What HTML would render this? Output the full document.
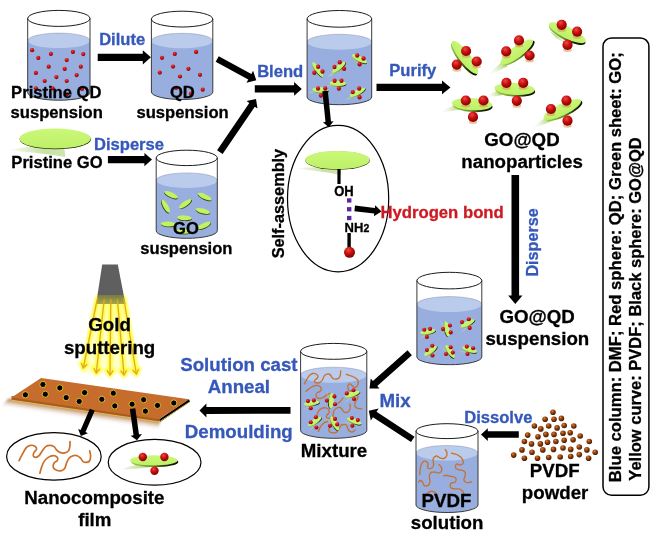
<!DOCTYPE html><html><head><meta charset="utf-8"><style>html,body{margin:0;padding:0;background:#fff;overflow:hidden}svg{display:block;filter:blur(0.35px)}</style></head><body><svg width="662" height="545" viewBox="0 0 662 545" font-family="'Liberation Sans', sans-serif" font-weight="bold">
<defs>
<radialGradient id="rb" cx="0.4" cy="0.3" r="0.72"><stop offset="0" stop-color="#f04848"/><stop offset="0.45" stop-color="#cc1010"/><stop offset="1" stop-color="#7a0000"/></radialGradient>
<radialGradient id="bb" cx="0.38" cy="0.32" r="0.7"><stop offset="0" stop-color="#d88040"/><stop offset="0.45" stop-color="#8f3f0a"/><stop offset="1" stop-color="#4a1800"/></radialGradient>
<linearGradient id="gsheet" x1="0" y1="0" x2="0" y2="1"><stop offset="0" stop-color="#cbf878"/><stop offset="1" stop-color="#bdf068"/></linearGradient>
<linearGradient id="gshadow" x1="1" y1="0" x2="0" y2="1"><stop offset="0" stop-color="#8cc040" stop-opacity="0.85"/><stop offset="1" stop-color="#ffffff" stop-opacity="0"/></linearGradient>
<radialGradient id="glow" cx="0.5" cy="0.2" r="0.8"><stop offset="0" stop-color="#ffff60" stop-opacity="0.95"/><stop offset="0.7" stop-color="#ffff90" stop-opacity="0.6"/><stop offset="1" stop-color="#ffffc0" stop-opacity="0"/></radialGradient>
<linearGradient id="head" x1="0" y1="0" x2="0" y2="1"><stop offset="0" stop-color="#5a5a5a"/><stop offset="0.75" stop-color="#6e6e6e"/><stop offset="1" stop-color="#8a8a50"/></linearGradient>
<linearGradient id="filmshadow" x1="0" y1="0" x2="0" y2="1"><stop offset="0" stop-color="#a86a3a" stop-opacity="0.9"/><stop offset="0.5" stop-color="#d8b090" stop-opacity="0.5"/><stop offset="1" stop-color="#ffffff" stop-opacity="0"/></linearGradient>
<linearGradient id="gsh2" x1="1" y1="0" x2="0" y2="0"><stop offset="0" stop-color="#b0d478" stop-opacity="0.6"/><stop offset="0.35" stop-color="#b4d882" stop-opacity="0.75"/><stop offset="0.7" stop-color="#d0e6b0" stop-opacity="0.5"/><stop offset="1" stop-color="#ffffff" stop-opacity="0"/></linearGradient>
<linearGradient id="rim" x1="0" y1="0" x2="1" y2="0"><stop offset="0" stop-color="#9ccc48"/><stop offset="0.45" stop-color="#6a8e28"/><stop offset="0.75" stop-color="#1e2606"/><stop offset="1" stop-color="#0a0e00"/></linearGradient>
<filter id="rb1" x="-50%" y="-50%" width="200%" height="200%"><feGaussianBlur stdDeviation="0.6"/></filter>
</defs>
<rect width="662" height="545" fill="#fff"/>
<path d="M27.70,40.60 L27.70,92.70 A31.15,7.50 0 0 0 90.00,92.70 L90.00,40.60 Z" fill="#98AEDE"/>
<ellipse cx="58.85" cy="40.60" rx="31.15" ry="7.50" fill="#BBCBEC"/>
<path d="M27.70,40.60 A31.15,7.50 0 0 1 90.00,40.60" fill="none" stroke="#50608c" stroke-opacity="0.45" stroke-width="0.7"/>
<circle cx="32.10" cy="50.20" r="2.10" fill="url(#rb)"/>
<circle cx="50.90" cy="53.90" r="2.10" fill="url(#rb)"/>
<circle cx="72.90" cy="51.90" r="2.10" fill="url(#rb)"/>
<circle cx="83.30" cy="54.10" r="2.10" fill="url(#rb)"/>
<circle cx="38.30" cy="57.90" r="2.10" fill="url(#rb)"/>
<circle cx="66.70" cy="60.10" r="2.10" fill="url(#rb)"/>
<circle cx="48.70" cy="66.70" r="2.10" fill="url(#rb)"/>
<circle cx="64.70" cy="68.90" r="2.10" fill="url(#rb)"/>
<circle cx="80.80" cy="66.70" r="2.10" fill="url(#rb)"/>
<circle cx="35.90" cy="72.90" r="2.10" fill="url(#rb)"/>
<circle cx="56.40" cy="77.10" r="2.10" fill="url(#rb)"/>
<circle cx="76.60" cy="75.10" r="2.10" fill="url(#rb)"/>
<circle cx="44.70" cy="81.00" r="2.10" fill="url(#rb)"/>
<circle cx="66.70" cy="81.00" r="2.10" fill="url(#rb)"/>
<circle cx="35.90" cy="88.30" r="2.10" fill="url(#rb)"/>
<circle cx="52.60" cy="88.30" r="2.10" fill="url(#rb)"/>
<circle cx="66.70" cy="94.30" r="2.10" fill="url(#rb)"/>
<circle cx="82.00" cy="89.00" r="2.10" fill="url(#rb)"/>
<g fill="none" stroke="#1c1c1c" stroke-width="1"><path d="M27.70,18.40 L27.70,92.70 A31.15,7.50 0 0 0 90.00,92.70 L90.00,18.40" stroke="#3a3a3a"/><ellipse cx="58.85" cy="18.40" rx="31.15" ry="8.00"/></g>
<path d="M151.40,40.80 L151.40,92.00 A30.70,7.50 0 0 0 212.80,92.00 L212.80,40.80 Z" fill="#98AEDE"/>
<ellipse cx="182.10" cy="40.80" rx="30.70" ry="7.50" fill="#BBCBEC"/>
<path d="M151.40,40.80 A30.70,7.50 0 0 1 212.80,40.80" fill="none" stroke="#50608c" stroke-opacity="0.45" stroke-width="0.7"/>
<circle cx="162.00" cy="57.80" r="2.10" fill="url(#rb)"/>
<circle cx="174.80" cy="53.90" r="2.10" fill="url(#rb)"/>
<circle cx="196.10" cy="51.90" r="2.10" fill="url(#rb)"/>
<circle cx="173.00" cy="66.60" r="2.10" fill="url(#rb)"/>
<circle cx="188.40" cy="68.80" r="2.10" fill="url(#rb)"/>
<circle cx="159.80" cy="72.60" r="2.10" fill="url(#rb)"/>
<circle cx="180.00" cy="76.50" r="2.10" fill="url(#rb)"/>
<circle cx="200.00" cy="74.80" r="2.10" fill="url(#rb)"/>
<circle cx="202.70" cy="89.70" r="2.10" fill="url(#rb)"/>
<circle cx="191.00" cy="93.50" r="2.10" fill="url(#rb)"/>
<circle cx="176.00" cy="88.00" r="2.10" fill="url(#rb)"/>
<g fill="none" stroke="#1c1c1c" stroke-width="1"><path d="M151.40,19.10 L151.40,92.00 A30.70,7.50 0 0 0 212.80,92.00 L212.80,19.10" stroke="#3a3a3a"/><ellipse cx="182.10" cy="19.10" rx="30.70" ry="7.90"/></g>
<path d="M156.20,180.40 L156.20,230.80 A30.55,7.50 0 0 0 217.30,230.80 L217.30,180.40 Z" fill="#98AEDE"/>
<ellipse cx="186.75" cy="180.40" rx="30.55" ry="7.50" fill="#BBCBEC"/>
<path d="M156.20,180.40 A30.55,7.50 0 0 1 217.30,180.40" fill="none" stroke="#50608c" stroke-opacity="0.45" stroke-width="0.7"/>
<g transform="translate(171,194.7) rotate(25)"><ellipse cx="0.3" cy="0.9" rx="7.4" ry="2.4" fill="#3c4a10"/><ellipse cx="0" cy="0" rx="7.4" ry="2.4" fill="#C0F262"/></g>
<g transform="translate(204.7,196.6) rotate(25)"><ellipse cx="0.3" cy="0.9" rx="7.4" ry="2.4" fill="#3c4a10"/><ellipse cx="0" cy="0" rx="7.4" ry="2.4" fill="#C0F262"/></g>
<g transform="translate(165.8,206.3) rotate(60)"><ellipse cx="0.3" cy="0.9" rx="7.4" ry="2.4" fill="#3c4a10"/><ellipse cx="0" cy="0" rx="7.4" ry="2.4" fill="#C0F262"/></g>
<g transform="translate(185.1,203.8) rotate(-35)"><ellipse cx="0.3" cy="0.9" rx="7.4" ry="2.4" fill="#3c4a10"/><ellipse cx="0" cy="0" rx="7.4" ry="2.4" fill="#C0F262"/></g>
<g transform="translate(202.8,210.9) rotate(15)"><ellipse cx="0.3" cy="0.9" rx="7.4" ry="2.4" fill="#3c4a10"/><ellipse cx="0" cy="0" rx="7.4" ry="2.4" fill="#C0F262"/></g>
<g transform="translate(184.5,217.8) rotate(3)"><ellipse cx="0.3" cy="0.9" rx="7.4" ry="2.4" fill="#3c4a10"/><ellipse cx="0" cy="0" rx="7.4" ry="2.4" fill="#C0F262"/></g>
<g transform="translate(168.1,224) rotate(3)"><ellipse cx="0.3" cy="0.9" rx="7.4" ry="2.4" fill="#3c4a10"/><ellipse cx="0" cy="0" rx="7.4" ry="2.4" fill="#C0F262"/></g>
<g transform="translate(203.8,225.6) rotate(-25)"><ellipse cx="0.3" cy="0.9" rx="7.4" ry="2.4" fill="#3c4a10"/><ellipse cx="0" cy="0" rx="7.4" ry="2.4" fill="#C0F262"/></g>
<g transform="translate(183.5,231.2) rotate(3)"><ellipse cx="0.3" cy="0.9" rx="7.4" ry="2.4" fill="#3c4a10"/><ellipse cx="0" cy="0" rx="7.4" ry="2.4" fill="#C0F262"/></g>
<g fill="none" stroke="#1c1c1c" stroke-width="1"><path d="M156.20,157.90 L156.20,230.80 A30.55,7.50 0 0 0 217.30,230.80 L217.30,157.90" stroke="#3a3a3a"/><ellipse cx="186.75" cy="157.90" rx="30.55" ry="7.70"/></g>
<path d="M307.10,42.00 L307.10,97.00 A32.30,7.70 0 0 0 371.70,97.00 L371.70,42.00 Z" fill="#98AEDE"/>
<ellipse cx="339.40" cy="42.00" rx="32.30" ry="7.70" fill="#BBCBEC"/>
<path d="M307.10,42.00 A32.30,7.70 0 0 1 371.70,42.00" fill="none" stroke="#50608c" stroke-opacity="0.45" stroke-width="0.7"/>
<g transform="matrix(0.409,0,0,0.436,127.5,44.6)">
<linearGradient id="sg1" gradientUnits="userSpaceOnUse" x1="465.00" y1="66.00" x2="477.00" y2="84.00"><stop offset="0" stop-color="#9cc850" stop-opacity="0.75"/><stop offset="1" stop-color="#ffffff" stop-opacity="0"/></linearGradient>
<path d="M460.00,62.00 Q467.00,71.80 477.00,84.00 Q475.00,78.20 470.00,70.00 Z" fill="url(#sg1)"/>
<linearGradient id="sg2" gradientUnits="userSpaceOnUse" x1="505.00" y1="64.00" x2="487.00" y2="76.00"><stop offset="0" stop-color="#9cc850" stop-opacity="0.75"/><stop offset="1" stop-color="#ffffff" stop-opacity="0"/></linearGradient>
<path d="M502.00,62.00 Q493.60,68.40 487.00,76.00 Q498.40,71.60 508.00,66.00 Z" fill="url(#sg2)"/>
<linearGradient id="sg3" gradientUnits="userSpaceOnUse" x1="553.00" y1="34.50" x2="578.00" y2="50.00"><stop offset="0" stop-color="#9cc850" stop-opacity="0.75"/><stop offset="1" stop-color="#ffffff" stop-opacity="0"/></linearGradient>
<path d="M550.00,31.00 Q563.10,39.45 578.00,50.00 Q567.90,45.05 556.00,38.00 Z" fill="url(#sg3)"/>
<linearGradient id="sg4" gradientUnits="userSpaceOnUse" x1="458.00" y1="107.00" x2="439.00" y2="113.00"><stop offset="0" stop-color="#9cc850" stop-opacity="0.75"/><stop offset="1" stop-color="#ffffff" stop-opacity="0"/></linearGradient>
<path d="M455.00,105.00 Q446.10,108.40 439.00,113.00 Q450.90,111.60 461.00,109.00 Z" fill="url(#sg4)"/>
<linearGradient id="sg5" gradientUnits="userSpaceOnUse" x1="500.00" y1="93.00" x2="485.00" y2="97.00"><stop offset="0" stop-color="#9cc850" stop-opacity="0.75"/><stop offset="1" stop-color="#ffffff" stop-opacity="0"/></linearGradient>
<path d="M497.00,91.00 Q490.10,93.40 485.00,97.00 Q494.90,96.60 503.00,95.00 Z" fill="url(#sg5)"/>
<linearGradient id="sg6" gradientUnits="userSpaceOnUse" x1="548.50" y1="119.50" x2="531.00" y2="129.00"><stop offset="0" stop-color="#9cc850" stop-opacity="0.75"/><stop offset="1" stop-color="#ffffff" stop-opacity="0"/></linearGradient>
<path d="M545.00,118.00 Q536.95,123.05 531.00,129.00 Q542.55,125.45 552.00,121.00 Z" fill="url(#sg6)"/>
<g transform="translate(465.00,57.40) rotate(52.50)"><ellipse cx="0.82" cy="1.68" rx="20.29" ry="5.60" fill="url(#rim)"/><ellipse cx="0" cy="0" rx="20.50" ry="5.60" fill="url(#gsheet)"/></g>
<circle cx="466.10" cy="51.00" r="5.10" fill="url(#rb)"/>
<circle cx="476.70" cy="61.50" r="5.10" fill="url(#rb)"/>
<circle cx="456.80" cy="64.60" r="5.10" fill="url(#rb)"/>
<g transform="translate(516.70,52.10) rotate(-36.40)"><ellipse cx="0.80" cy="1.71" rx="19.70" ry="5.70" fill="url(#rim)"/><ellipse cx="0" cy="0" rx="19.90" ry="5.70" fill="url(#gsheet)"/></g>
<circle cx="519.00" cy="40.40" r="5.10" fill="url(#rb)"/>
<circle cx="506.20" cy="51.40" r="5.10" fill="url(#rb)"/>
<circle cx="529.60" cy="55.50" r="5.10" fill="url(#rb)"/>
<g transform="translate(567.30,32.70) rotate(26.30)"><ellipse cx="0.81" cy="1.77" rx="20.10" ry="5.90" fill="url(#rim)"/><ellipse cx="0" cy="0" rx="20.30" ry="5.90" fill="url(#gsheet)"/></g>
<circle cx="561.70" cy="24.80" r="5.10" fill="url(#rb)"/>
<circle cx="577.10" cy="31.70" r="5.10" fill="url(#rb)"/>
<circle cx="567.50" cy="44.90" r="5.10" fill="url(#rb)"/>
<g transform="translate(472.00,104.10) rotate(3.00)"><ellipse cx="0.80" cy="1.83" rx="19.90" ry="6.10" fill="url(#rim)"/><ellipse cx="0" cy="0" rx="20.10" ry="6.10" fill="url(#gsheet)"/></g>
<circle cx="465.80" cy="100.50" r="5.10" fill="url(#rb)"/>
<circle cx="483.50" cy="100.50" r="5.10" fill="url(#rb)"/>
<circle cx="473.00" cy="116.90" r="5.10" fill="url(#rb)"/>
<g transform="translate(514.60,88.90) rotate(3.00)"><ellipse cx="0.80" cy="1.80" rx="19.90" ry="6.00" fill="url(#rim)"/><ellipse cx="0" cy="0" rx="20.10" ry="6.00" fill="url(#gsheet)"/></g>
<circle cx="506.40" cy="82.90" r="5.10" fill="url(#rb)"/>
<circle cx="523.20" cy="82.90" r="5.10" fill="url(#rb)"/>
<circle cx="516.80" cy="100.80" r="5.10" fill="url(#rb)"/>
<g transform="translate(562.30,109.50) rotate(-25.80)"><ellipse cx="0.82" cy="1.77" rx="20.39" ry="5.90" fill="url(#rim)"/><ellipse cx="0" cy="0" rx="20.60" ry="5.90" fill="url(#gsheet)"/></g>
<circle cx="566.50" cy="100.60" r="5.10" fill="url(#rb)"/>
<circle cx="550.90" cy="109.00" r="5.10" fill="url(#rb)"/>
<circle cx="567.50" cy="120.70" r="5.10" fill="url(#rb)"/>
</g>
<g fill="none" stroke="#1c1c1c" stroke-width="1"><path d="M307.10,18.85 L307.10,97.00 A32.30,7.70 0 0 0 371.70,97.00 L371.70,18.85" stroke="#3a3a3a"/><ellipse cx="339.40" cy="18.85" rx="32.30" ry="8.35"/></g>
<linearGradient id="sg7" gradientUnits="userSpaceOnUse" x1="465.00" y1="66.00" x2="477.00" y2="84.00"><stop offset="0" stop-color="#9cc850" stop-opacity="0.75"/><stop offset="1" stop-color="#ffffff" stop-opacity="0"/></linearGradient>
<path d="M460.00,62.00 Q467.00,71.80 477.00,84.00 Q475.00,78.20 470.00,70.00 Z" fill="url(#sg7)"/>
<linearGradient id="sg8" gradientUnits="userSpaceOnUse" x1="505.00" y1="64.00" x2="487.00" y2="76.00"><stop offset="0" stop-color="#9cc850" stop-opacity="0.75"/><stop offset="1" stop-color="#ffffff" stop-opacity="0"/></linearGradient>
<path d="M502.00,62.00 Q493.60,68.40 487.00,76.00 Q498.40,71.60 508.00,66.00 Z" fill="url(#sg8)"/>
<linearGradient id="sg9" gradientUnits="userSpaceOnUse" x1="553.00" y1="34.50" x2="578.00" y2="50.00"><stop offset="0" stop-color="#9cc850" stop-opacity="0.75"/><stop offset="1" stop-color="#ffffff" stop-opacity="0"/></linearGradient>
<path d="M550.00,31.00 Q563.10,39.45 578.00,50.00 Q567.90,45.05 556.00,38.00 Z" fill="url(#sg9)"/>
<linearGradient id="sg10" gradientUnits="userSpaceOnUse" x1="458.00" y1="107.00" x2="439.00" y2="113.00"><stop offset="0" stop-color="#9cc850" stop-opacity="0.75"/><stop offset="1" stop-color="#ffffff" stop-opacity="0"/></linearGradient>
<path d="M455.00,105.00 Q446.10,108.40 439.00,113.00 Q450.90,111.60 461.00,109.00 Z" fill="url(#sg10)"/>
<linearGradient id="sg11" gradientUnits="userSpaceOnUse" x1="500.00" y1="93.00" x2="485.00" y2="97.00"><stop offset="0" stop-color="#9cc850" stop-opacity="0.75"/><stop offset="1" stop-color="#ffffff" stop-opacity="0"/></linearGradient>
<path d="M497.00,91.00 Q490.10,93.40 485.00,97.00 Q494.90,96.60 503.00,95.00 Z" fill="url(#sg11)"/>
<linearGradient id="sg12" gradientUnits="userSpaceOnUse" x1="548.50" y1="119.50" x2="531.00" y2="129.00"><stop offset="0" stop-color="#9cc850" stop-opacity="0.75"/><stop offset="1" stop-color="#ffffff" stop-opacity="0"/></linearGradient>
<path d="M545.00,118.00 Q536.95,123.05 531.00,129.00 Q542.55,125.45 552.00,121.00 Z" fill="url(#sg12)"/>
<g transform="translate(465.00,57.40) rotate(52.50)"><ellipse cx="0.82" cy="1.68" rx="20.29" ry="5.60" fill="url(#rim)"/><ellipse cx="0" cy="0" rx="20.50" ry="5.60" fill="url(#gsheet)"/></g>
<ellipse cx="466.10" cy="56.10" rx="4.33" ry="1.94" fill="#d8904a" opacity="0.55" filter="url(#rb1)"/>
<circle cx="466.10" cy="51.00" r="5.10" fill="url(#rb)"/>
<ellipse cx="476.70" cy="66.60" rx="4.33" ry="1.94" fill="#d8904a" opacity="0.55" filter="url(#rb1)"/>
<circle cx="476.70" cy="61.50" r="5.10" fill="url(#rb)"/>
<ellipse cx="456.80" cy="69.70" rx="4.33" ry="1.94" fill="#d8904a" opacity="0.55" filter="url(#rb1)"/>
<circle cx="456.80" cy="64.60" r="5.10" fill="url(#rb)"/>
<g transform="translate(516.70,52.10) rotate(-36.40)"><ellipse cx="0.80" cy="1.71" rx="19.70" ry="5.70" fill="url(#rim)"/><ellipse cx="0" cy="0" rx="19.90" ry="5.70" fill="url(#gsheet)"/></g>
<ellipse cx="519.00" cy="45.50" rx="4.33" ry="1.94" fill="#d8904a" opacity="0.55" filter="url(#rb1)"/>
<circle cx="519.00" cy="40.40" r="5.10" fill="url(#rb)"/>
<ellipse cx="506.20" cy="56.50" rx="4.33" ry="1.94" fill="#d8904a" opacity="0.55" filter="url(#rb1)"/>
<circle cx="506.20" cy="51.40" r="5.10" fill="url(#rb)"/>
<ellipse cx="529.60" cy="60.60" rx="4.33" ry="1.94" fill="#d8904a" opacity="0.55" filter="url(#rb1)"/>
<circle cx="529.60" cy="55.50" r="5.10" fill="url(#rb)"/>
<g transform="translate(567.30,32.70) rotate(26.30)"><ellipse cx="0.81" cy="1.77" rx="20.10" ry="5.90" fill="url(#rim)"/><ellipse cx="0" cy="0" rx="20.30" ry="5.90" fill="url(#gsheet)"/></g>
<ellipse cx="561.70" cy="29.90" rx="4.33" ry="1.94" fill="#d8904a" opacity="0.55" filter="url(#rb1)"/>
<circle cx="561.70" cy="24.80" r="5.10" fill="url(#rb)"/>
<ellipse cx="577.10" cy="36.80" rx="4.33" ry="1.94" fill="#d8904a" opacity="0.55" filter="url(#rb1)"/>
<circle cx="577.10" cy="31.70" r="5.10" fill="url(#rb)"/>
<ellipse cx="567.50" cy="50.00" rx="4.33" ry="1.94" fill="#d8904a" opacity="0.55" filter="url(#rb1)"/>
<circle cx="567.50" cy="44.90" r="5.10" fill="url(#rb)"/>
<g transform="translate(472.00,104.10) rotate(3.00)"><ellipse cx="0.80" cy="1.83" rx="19.90" ry="6.10" fill="url(#rim)"/><ellipse cx="0" cy="0" rx="20.10" ry="6.10" fill="url(#gsheet)"/></g>
<ellipse cx="465.80" cy="105.60" rx="4.33" ry="1.94" fill="#d8904a" opacity="0.55" filter="url(#rb1)"/>
<circle cx="465.80" cy="100.50" r="5.10" fill="url(#rb)"/>
<ellipse cx="483.50" cy="105.60" rx="4.33" ry="1.94" fill="#d8904a" opacity="0.55" filter="url(#rb1)"/>
<circle cx="483.50" cy="100.50" r="5.10" fill="url(#rb)"/>
<ellipse cx="473.00" cy="122.00" rx="4.33" ry="1.94" fill="#d8904a" opacity="0.55" filter="url(#rb1)"/>
<circle cx="473.00" cy="116.90" r="5.10" fill="url(#rb)"/>
<g transform="translate(514.60,88.90) rotate(3.00)"><ellipse cx="0.80" cy="1.80" rx="19.90" ry="6.00" fill="url(#rim)"/><ellipse cx="0" cy="0" rx="20.10" ry="6.00" fill="url(#gsheet)"/></g>
<ellipse cx="506.40" cy="88.00" rx="4.33" ry="1.94" fill="#d8904a" opacity="0.55" filter="url(#rb1)"/>
<circle cx="506.40" cy="82.90" r="5.10" fill="url(#rb)"/>
<ellipse cx="523.20" cy="88.00" rx="4.33" ry="1.94" fill="#d8904a" opacity="0.55" filter="url(#rb1)"/>
<circle cx="523.20" cy="82.90" r="5.10" fill="url(#rb)"/>
<ellipse cx="516.80" cy="105.90" rx="4.33" ry="1.94" fill="#d8904a" opacity="0.55" filter="url(#rb1)"/>
<circle cx="516.80" cy="100.80" r="5.10" fill="url(#rb)"/>
<g transform="translate(562.30,109.50) rotate(-25.80)"><ellipse cx="0.82" cy="1.77" rx="20.39" ry="5.90" fill="url(#rim)"/><ellipse cx="0" cy="0" rx="20.60" ry="5.90" fill="url(#gsheet)"/></g>
<ellipse cx="566.50" cy="105.70" rx="4.33" ry="1.94" fill="#d8904a" opacity="0.55" filter="url(#rb1)"/>
<circle cx="566.50" cy="100.60" r="5.10" fill="url(#rb)"/>
<ellipse cx="550.90" cy="114.10" rx="4.33" ry="1.94" fill="#d8904a" opacity="0.55" filter="url(#rb1)"/>
<circle cx="550.90" cy="109.00" r="5.10" fill="url(#rb)"/>
<ellipse cx="567.50" cy="125.80" rx="4.33" ry="1.94" fill="#d8904a" opacity="0.55" filter="url(#rb1)"/>
<circle cx="567.50" cy="120.70" r="5.10" fill="url(#rb)"/>
<path d="M416.90,304.30 L416.90,357.00 A32.45,7.70 0 0 0 481.80,357.00 L481.80,304.30 Z" fill="#98AEDE"/>
<ellipse cx="449.35" cy="304.30" rx="32.45" ry="7.70" fill="#BBCBEC"/>
<path d="M416.90,304.30 A32.45,7.70 0 0 1 481.80,304.30" fill="none" stroke="#50608c" stroke-opacity="0.45" stroke-width="0.7"/>
<g transform="translate(427.90,331.70) rotate(-10.00)"><path d="M-1.56,1.44 Q-7.02,3.84 -12.48,6.24 Q-4.68,4.56 2.34,2.40 Z" fill="url(#gshadow)" opacity="0.8"/></g>
<g transform="translate(427.90,331.70) rotate(-10.00)"><ellipse cx="0.31" cy="0.72" rx="7.72" ry="2.40" fill="url(#rim)"/><ellipse cx="0" cy="0" rx="7.80" ry="2.40" fill="url(#gsheet)"/></g>
<circle cx="424.30" cy="329.80" r="2.05" fill="url(#rb)"/>
<circle cx="430.10" cy="328.90" r="2.05" fill="url(#rb)"/>
<circle cx="426.90" cy="336.90" r="2.05" fill="url(#rb)"/>
<g transform="translate(447.00,329.00) rotate(80.00)"><path d="M-1.56,1.44 Q-7.02,3.84 -12.48,6.24 Q-4.68,4.56 2.34,2.40 Z" fill="url(#gshadow)" opacity="0.8"/></g>
<g transform="translate(447.00,329.00) rotate(80.00)"><ellipse cx="0.31" cy="0.72" rx="7.72" ry="2.40" fill="url(#rim)"/><ellipse cx="0" cy="0" rx="7.80" ry="2.40" fill="url(#gsheet)"/></g>
<circle cx="449.90" cy="325.50" r="2.05" fill="url(#rb)"/>
<circle cx="443.00" cy="329.10" r="2.05" fill="url(#rb)"/>
<circle cx="450.70" cy="332.40" r="2.05" fill="url(#rb)"/>
<g transform="translate(467.80,323.30) rotate(-27.00)"><path d="M-1.56,1.44 Q-7.02,3.84 -12.48,6.24 Q-4.68,4.56 2.34,2.40 Z" fill="url(#gshadow)" opacity="0.8"/></g>
<g transform="translate(467.80,323.30) rotate(-27.00)"><ellipse cx="0.31" cy="0.72" rx="7.72" ry="2.40" fill="url(#rim)"/><ellipse cx="0" cy="0" rx="7.80" ry="2.40" fill="url(#gsheet)"/></g>
<circle cx="462.00" cy="322.10" r="2.05" fill="url(#rb)"/>
<circle cx="468.80" cy="319.20" r="2.05" fill="url(#rb)"/>
<circle cx="469.70" cy="327.90" r="2.05" fill="url(#rb)"/>
<g transform="translate(430.60,350.90) rotate(-36.00)"><path d="M-1.56,1.44 Q-7.02,3.84 -12.48,6.24 Q-4.68,4.56 2.34,2.40 Z" fill="url(#gshadow)" opacity="0.8"/></g>
<g transform="translate(430.60,350.90) rotate(-36.00)"><ellipse cx="0.31" cy="0.72" rx="7.72" ry="2.40" fill="url(#rim)"/><ellipse cx="0" cy="0" rx="7.80" ry="2.40" fill="url(#gsheet)"/></g>
<circle cx="432.30" cy="345.80" r="2.05" fill="url(#rb)"/>
<circle cx="426.90" cy="350.10" r="2.05" fill="url(#rb)"/>
<circle cx="432.50" cy="355.50" r="2.05" fill="url(#rb)"/>
<g transform="translate(450.10,351.60) rotate(56.00)"><path d="M-1.56,1.44 Q-7.02,3.84 -12.48,6.24 Q-4.68,4.56 2.34,2.40 Z" fill="url(#gshadow)" opacity="0.8"/></g>
<g transform="translate(450.10,351.60) rotate(56.00)"><ellipse cx="0.31" cy="0.72" rx="7.72" ry="2.40" fill="url(#rim)"/><ellipse cx="0" cy="0" rx="7.80" ry="2.40" fill="url(#gsheet)"/></g>
<circle cx="450.70" cy="347.20" r="2.05" fill="url(#rb)"/>
<circle cx="446.00" cy="354.00" r="2.05" fill="url(#rb)"/>
<circle cx="452.80" cy="352.60" r="2.05" fill="url(#rb)"/>
<g transform="translate(469.70,349.60) rotate(18.00)"><path d="M-1.56,1.44 Q-7.02,3.84 -12.48,6.24 Q-4.68,4.56 2.34,2.40 Z" fill="url(#gshadow)" opacity="0.8"/></g>
<g transform="translate(469.70,349.60) rotate(18.00)"><ellipse cx="0.31" cy="0.72" rx="7.72" ry="2.40" fill="url(#rim)"/><ellipse cx="0" cy="0" rx="7.80" ry="2.40" fill="url(#gsheet)"/></g>
<circle cx="466.80" cy="346.60" r="2.05" fill="url(#rb)"/>
<circle cx="473.10" cy="348.20" r="2.05" fill="url(#rb)"/>
<circle cx="467.50" cy="354.00" r="2.05" fill="url(#rb)"/>
<g fill="none" stroke="#1c1c1c" stroke-width="1"><path d="M416.90,280.60 L416.90,357.00 A32.45,7.70 0 0 0 481.80,357.00 L481.80,280.60" stroke="#3a3a3a"/><ellipse cx="449.35" cy="280.60" rx="32.45" ry="8.30"/></g>
<path d="M300.60,375.00 L300.60,430.50 A33.10,7.80 0 0 0 366.80,430.50 L366.80,375.00 Z" fill="#98AEDE"/>
<ellipse cx="333.70" cy="375.00" rx="33.10" ry="7.80" fill="#BBCBEC"/>
<path d="M300.60,375.00 A33.10,7.80 0 0 1 366.80,375.00" fill="none" stroke="#50608c" stroke-opacity="0.45" stroke-width="0.7"/>
<path d="M304.50,383.90 C304.92,383.08 306.17,380.40 307.00,379.00 C307.83,377.60 308.58,376.42 309.50,375.50 C310.42,374.58 311.42,373.75 312.50,373.50 C313.58,373.25 315.10,373.58 316.00,374.00 C316.90,374.42 317.67,375.33 317.90,376.00 C318.13,376.67 317.88,377.33 317.40,378.00 C316.92,378.67 315.48,379.33 315.00,380.00 C314.52,380.67 314.17,381.50 314.50,382.00 C314.83,382.50 316.10,382.93 317.00,383.00 C317.90,383.07 319.00,382.90 319.90,382.40 C320.80,381.90 321.73,380.98 322.40,380.00 C323.07,379.02 323.32,377.42 323.90,376.50 C324.48,375.58 325.07,374.92 325.90,374.50 C326.73,374.08 328.07,373.83 328.90,374.00 C329.73,374.17 330.40,374.92 330.90,375.50 C331.40,376.08 331.40,376.92 331.90,377.50 C332.40,378.08 333.07,378.75 333.90,379.00 C334.73,379.25 335.98,379.25 336.90,379.00 C337.82,378.75 338.82,378.25 339.40,377.50 C339.98,376.75 340.18,375.58 340.40,374.50 C340.62,373.42 340.65,371.58 340.70,371.00" fill="none" stroke="#C8702C" stroke-width="1.3" stroke-linecap="round"/>
<path d="M346.10,374.20 C346.73,374.42 348.62,375.03 349.90,375.50 C351.18,375.97 352.65,376.42 353.80,377.00 C354.95,377.58 356.05,378.25 356.80,379.00 C357.55,379.75 358.10,380.60 358.30,381.50 C358.50,382.40 358.25,383.58 358.00,384.40 C357.75,385.22 357.37,385.90 356.80,386.40 C356.23,386.90 355.35,387.48 354.60,387.40 C353.85,387.32 353.02,386.48 352.30,385.90 C351.58,385.32 350.95,384.07 350.30,383.90 C349.65,383.73 348.80,384.32 348.40,384.90 C348.00,385.48 347.82,386.48 347.90,387.40 C347.98,388.32 348.33,389.73 348.90,390.40 C349.47,391.07 350.15,390.82 351.30,391.40 C352.45,391.98 354.72,393.15 355.80,393.90 C356.88,394.65 357.55,395.07 357.80,395.90 C358.05,396.73 357.63,398.07 357.30,398.90 C356.97,399.73 356.22,400.07 355.80,400.90 C355.38,401.73 354.88,402.90 354.80,403.90 C354.72,404.90 354.80,406.15 355.30,406.90 C355.80,407.65 356.72,408.07 357.80,408.40 C358.88,408.73 361.13,408.82 361.80,408.90" fill="none" stroke="#C8702C" stroke-width="1.3" stroke-linecap="round"/>
<path d="M306.00,391.40 C306.50,390.98 307.83,389.73 309.00,388.90 C310.17,388.07 311.67,386.98 313.00,386.40 C314.33,385.82 315.85,385.40 317.00,385.40 C318.15,385.40 319.17,385.82 319.90,386.40 C320.63,386.98 321.40,388.07 321.40,388.90 C321.40,389.73 320.63,390.73 319.90,391.40 C319.17,392.07 317.65,392.23 317.00,392.90 C316.35,393.57 315.93,394.57 316.00,395.40 C316.07,396.23 316.58,397.40 317.40,397.90 C318.22,398.40 319.73,398.57 320.90,398.40 C322.07,398.23 323.40,397.48 324.40,396.90 C325.40,396.32 325.98,395.48 326.90,394.90 C327.82,394.32 329.40,393.65 329.90,393.40" fill="none" stroke="#C8702C" stroke-width="1.3" stroke-linecap="round"/>
<path d="M337.90,403.40 C338.40,402.98 340.07,401.82 340.90,400.90 C341.73,399.98 342.57,398.40 342.90,397.90" fill="none" stroke="#C8702C" stroke-width="1.3" stroke-linecap="round"/>
<path d="M316.50,416.40 C316.73,415.73 317.33,413.55 317.90,412.40 C318.47,411.25 319.07,410.23 319.90,409.50 C320.73,408.77 321.82,408.25 322.90,408.00 C323.98,407.75 325.40,407.67 326.40,408.00 C327.40,408.33 328.48,409.17 328.90,410.00 C329.32,410.83 329.23,412.17 328.90,413.00 C328.57,413.83 327.32,414.27 326.90,415.00 C326.48,415.73 326.07,416.83 326.40,417.40 C326.73,417.97 328.23,418.40 328.90,418.40 C329.57,418.40 330.15,417.57 330.40,417.40" fill="none" stroke="#C8702C" stroke-width="1.3" stroke-linecap="round"/>
<path d="M332.90,416.40 C332.98,415.83 333.15,414.07 333.40,413.00 C333.65,411.93 333.82,410.83 334.40,410.00 C334.98,409.17 335.98,408.42 336.90,408.00 C337.82,407.58 339.07,407.33 339.90,407.50 C340.73,407.67 341.23,408.25 341.90,409.00 C342.57,409.75 343.07,411.43 343.90,412.00 C344.73,412.57 345.98,412.65 346.90,412.40 C347.82,412.15 348.83,411.40 349.40,410.50 C349.97,409.60 350.22,408.08 350.30,407.00 C350.38,405.92 349.97,404.50 349.90,404.00" fill="none" stroke="#C8702C" stroke-width="1.3" stroke-linecap="round"/>
<path d="M318.40,431.40 C318.65,430.82 319.32,428.98 319.90,427.90 C320.48,426.82 321.07,425.82 321.90,424.90 C322.73,423.98 323.90,422.98 324.90,422.40 C325.90,421.82 327.40,421.57 327.90,421.40" fill="none" stroke="#C8702C" stroke-width="1.3" stroke-linecap="round"/>
<path d="M329.90,426.90 C329.73,427.32 328.90,428.57 328.90,429.40 C328.90,430.23 329.15,431.32 329.90,431.90 C330.65,432.48 332.32,432.82 333.40,432.90 C334.48,432.98 335.57,432.90 336.40,432.40 C337.23,431.90 337.82,430.82 338.40,429.90 C338.98,428.98 339.32,427.73 339.90,426.90 C340.48,426.07 341.07,425.32 341.90,424.90 C342.73,424.48 344.07,424.23 344.90,424.40 C345.73,424.57 346.40,425.15 346.90,425.90 C347.40,426.65 347.40,427.98 347.90,428.90 C348.40,429.82 349.08,430.90 349.90,431.40 C350.72,431.90 351.90,432.15 352.80,431.90 C353.70,431.65 354.88,430.23 355.30,429.90" fill="none" stroke="#C8702C" stroke-width="1.3" stroke-linecap="round"/>
<g transform="translate(311.80,403.20) rotate(-8.00)"><path d="M-1.56,1.44 Q-7.02,3.84 -12.48,6.24 Q-4.68,4.56 2.34,2.40 Z" fill="url(#gshadow)" opacity="0.8"/></g>
<g transform="translate(311.80,403.20) rotate(-8.00)"><ellipse cx="0.31" cy="0.72" rx="7.72" ry="2.40" fill="url(#rim)"/><ellipse cx="0" cy="0" rx="7.80" ry="2.40" fill="url(#gsheet)"/></g>
<circle cx="308.00" cy="401.10" r="2.05" fill="url(#rb)"/>
<circle cx="313.90" cy="400.40" r="2.05" fill="url(#rb)"/>
<circle cx="310.80" cy="408.30" r="2.05" fill="url(#rb)"/>
<g transform="translate(331.30,400.80) rotate(95.00)"><path d="M-1.56,1.44 Q-7.02,3.84 -12.48,6.24 Q-4.68,4.56 2.34,2.40 Z" fill="url(#gshadow)" opacity="0.8"/></g>
<g transform="translate(331.30,400.80) rotate(95.00)"><ellipse cx="0.31" cy="0.72" rx="7.72" ry="2.40" fill="url(#rim)"/><ellipse cx="0" cy="0" rx="7.80" ry="2.40" fill="url(#gsheet)"/></g>
<circle cx="334.40" cy="396.40" r="2.05" fill="url(#rb)"/>
<circle cx="326.90" cy="400.60" r="2.05" fill="url(#rb)"/>
<circle cx="335.00" cy="404.20" r="2.05" fill="url(#rb)"/>
<g transform="translate(352.40,394.10) rotate(-18.00)"><path d="M-1.56,1.44 Q-7.02,3.84 -12.48,6.24 Q-4.68,4.56 2.34,2.40 Z" fill="url(#gshadow)" opacity="0.8"/></g>
<g transform="translate(352.40,394.10) rotate(-18.00)"><ellipse cx="0.31" cy="0.72" rx="7.72" ry="2.40" fill="url(#rim)"/><ellipse cx="0" cy="0" rx="7.80" ry="2.40" fill="url(#gsheet)"/></g>
<circle cx="346.80" cy="393.40" r="2.05" fill="url(#rb)"/>
<circle cx="353.50" cy="390.30" r="2.05" fill="url(#rb)"/>
<circle cx="354.00" cy="399.00" r="2.05" fill="url(#rb)"/>
<g transform="translate(314.90,421.40) rotate(-33.00)"><path d="M-1.56,1.44 Q-7.02,3.84 -12.48,6.24 Q-4.68,4.56 2.34,2.40 Z" fill="url(#gshadow)" opacity="0.8"/></g>
<g transform="translate(314.90,421.40) rotate(-33.00)"><ellipse cx="0.31" cy="0.72" rx="7.72" ry="2.40" fill="url(#rim)"/><ellipse cx="0" cy="0" rx="7.80" ry="2.40" fill="url(#gsheet)"/></g>
<circle cx="315.90" cy="417.20" r="2.05" fill="url(#rb)"/>
<circle cx="310.80" cy="422.20" r="2.05" fill="url(#rb)"/>
<circle cx="316.40" cy="427.50" r="2.05" fill="url(#rb)"/>
<g transform="translate(334.70,423.50) rotate(61.00)"><path d="M-1.56,1.44 Q-7.02,3.84 -12.48,6.24 Q-4.68,4.56 2.34,2.40 Z" fill="url(#gshadow)" opacity="0.8"/></g>
<g transform="translate(334.70,423.50) rotate(61.00)"><ellipse cx="0.31" cy="0.72" rx="7.72" ry="2.40" fill="url(#rim)"/><ellipse cx="0" cy="0" rx="7.80" ry="2.40" fill="url(#gsheet)"/></g>
<circle cx="335.00" cy="418.90" r="2.05" fill="url(#rb)"/>
<circle cx="330.00" cy="425.70" r="2.05" fill="url(#rb)"/>
<circle cx="337.20" cy="424.40" r="2.05" fill="url(#rb)"/>
<g transform="translate(354.30,421.10) rotate(22.00)"><path d="M-1.56,1.44 Q-7.02,3.84 -12.48,6.24 Q-4.68,4.56 2.34,2.40 Z" fill="url(#gshadow)" opacity="0.8"/></g>
<g transform="translate(354.30,421.10) rotate(22.00)"><ellipse cx="0.31" cy="0.72" rx="7.72" ry="2.40" fill="url(#rim)"/><ellipse cx="0" cy="0" rx="7.80" ry="2.40" fill="url(#gsheet)"/></g>
<circle cx="351.90" cy="418.00" r="2.05" fill="url(#rb)"/>
<circle cx="357.80" cy="420.10" r="2.05" fill="url(#rb)"/>
<circle cx="352.40" cy="425.70" r="2.05" fill="url(#rb)"/>
<g fill="none" stroke="#1c1c1c" stroke-width="1"><path d="M300.60,351.35 L300.60,430.50 A33.10,7.80 0 0 0 366.80,430.50 L366.80,351.35" stroke="#3a3a3a"/><ellipse cx="333.70" cy="351.35" rx="33.10" ry="7.95"/></g>
<path d="M416.00,453.00 L416.00,505.00 A31.00,7.50 0 0 0 478.00,505.00 L478.00,453.00 Z" fill="#98AEDE"/>
<ellipse cx="447.00" cy="453.00" rx="31.00" ry="7.50" fill="#BBCBEC"/>
<path d="M416.00,453.00 A31.00,7.50 0 0 1 478.00,453.00" fill="none" stroke="#50608c" stroke-opacity="0.45" stroke-width="0.7"/>
<path d="M419.80,474.60 C419.90,473.40 420.00,469.38 420.40,467.40 C420.80,465.42 421.52,463.73 422.20,462.70 C422.88,461.67 423.72,461.30 424.50,461.20 C425.28,461.10 426.30,461.57 426.90,462.10 C427.50,462.63 428.00,463.62 428.10,464.40 C428.20,465.18 427.40,466.10 427.50,466.80 C427.60,467.50 428.00,468.40 428.70,468.60 C429.40,468.80 430.90,468.50 431.70,468.00 C432.50,467.50 433.20,466.48 433.50,465.60 C433.80,464.72 433.60,463.68 433.50,462.70 C433.40,461.72 432.70,460.70 432.90,459.70 C433.10,458.70 434.00,457.30 434.70,456.70 C435.40,456.10 436.22,455.90 437.10,456.10 C437.98,456.30 438.92,457.50 440.00,457.90 C441.08,458.30 442.57,458.70 443.60,458.50 C444.63,458.30 445.63,457.60 446.20,456.70 C446.77,455.80 447.13,454.30 447.00,453.10 C446.87,451.90 445.67,450.10 445.40,449.50" fill="none" stroke="#C8702C" stroke-width="1.3" stroke-linecap="round"/>
<path d="M451.40,453.10 C452.08,453.27 454.32,453.70 455.50,454.10 C456.68,454.50 457.50,454.87 458.50,455.50 C459.50,456.13 460.70,456.90 461.50,457.90 C462.30,458.90 463.10,460.50 463.30,461.50 C463.50,462.50 463.30,463.32 462.70,463.90 C462.10,464.48 460.70,465.00 459.70,465.00 C458.70,465.00 457.40,463.70 456.70,463.90 C456.00,464.10 455.60,465.42 455.50,466.20 C455.40,466.98 455.50,468.00 456.10,468.60 C456.70,469.20 458.00,469.50 459.10,469.80 C460.20,470.10 461.70,470.00 462.70,470.40 C463.70,470.80 464.70,471.30 465.10,472.20 C465.50,473.10 465.30,474.60 465.10,475.80 C464.90,477.00 463.90,478.42 463.90,479.40 C463.90,480.38 464.30,481.15 465.10,481.70 C465.90,482.25 467.62,482.70 468.70,482.70 C469.78,482.70 471.12,481.87 471.60,481.70" fill="none" stroke="#C8702C" stroke-width="1.3" stroke-linecap="round"/>
<path d="M438.90,464.40 C439.18,464.70 440.12,465.50 440.60,466.20 C441.08,466.90 441.70,467.70 441.80,468.60 C441.90,469.50 441.68,470.90 441.20,471.60 C440.72,472.30 439.88,472.70 438.90,472.80 C437.92,472.90 436.50,472.30 435.30,472.20 C434.10,472.10 432.60,471.90 431.70,472.20 C430.80,472.50 430.30,473.20 429.90,474.00 C429.50,474.80 429.30,475.92 429.30,477.00 C429.30,478.08 429.90,479.32 429.90,480.50 C429.90,481.68 429.80,483.20 429.30,484.10 C428.80,485.00 427.80,485.70 426.90,485.90 C426.00,486.10 424.58,485.90 423.90,485.30 C423.22,484.70 423.37,483.10 422.80,482.30 C422.23,481.50 421.20,480.55 420.50,480.50 C419.80,480.45 418.92,481.75 418.60,482.00" fill="none" stroke="#C8702C" stroke-width="1.3" stroke-linecap="round"/>
<path d="M443.60,475.80 C444.20,475.75 446.00,475.40 447.20,475.50 C448.40,475.60 449.60,476.15 450.80,476.40 C452.00,476.65 453.52,476.50 454.40,477.00 C455.28,477.50 456.00,478.52 456.10,479.40 C456.20,480.28 455.78,481.72 455.00,482.30 C454.22,482.88 452.20,482.40 451.40,482.90 C450.60,483.40 450.30,484.50 450.20,485.30 C450.10,486.10 450.10,487.10 450.80,487.70 C451.50,488.30 453.02,488.70 454.40,488.90 C455.78,489.10 457.72,488.50 459.10,488.90 C460.48,489.30 461.90,490.40 462.70,491.30 C463.50,492.20 463.70,493.80 463.90,494.30" fill="none" stroke="#C8702C" stroke-width="1.3" stroke-linecap="round"/>
<path d="M423.30,498.40 C423.90,497.62 425.70,494.88 426.90,493.70 C428.10,492.52 429.30,491.60 430.50,491.30 C431.70,491.00 433.10,491.40 434.10,491.90 C435.10,492.40 435.85,493.45 436.50,494.30 C437.15,495.15 437.75,496.55 438.00,497.00" fill="none" stroke="#C8702C" stroke-width="1.3" stroke-linecap="round"/>
<g fill="none" stroke="#1c1c1c" stroke-width="1"><path d="M416.00,431.15 L416.00,505.00 A31.00,7.50 0 0 0 478.00,505.00 L478.00,431.15" stroke="#3a3a3a"/><ellipse cx="447.00" cy="431.15" rx="31.00" ry="7.45"/></g>
<circle cx="553.00" cy="412.20" r="2.80" fill="url(#bb)"/>
<circle cx="545.10" cy="419.30" r="2.80" fill="url(#bb)"/>
<circle cx="554.00" cy="419.30" r="2.80" fill="url(#bb)"/>
<circle cx="561.40" cy="418.40" r="2.80" fill="url(#bb)"/>
<circle cx="534.40" cy="426.00" r="2.80" fill="url(#bb)"/>
<circle cx="540.80" cy="428.90" r="2.80" fill="url(#bb)"/>
<circle cx="548.70" cy="426.00" r="2.80" fill="url(#bb)"/>
<circle cx="557.10" cy="427.90" r="2.80" fill="url(#bb)"/>
<circle cx="564.20" cy="425.50" r="2.80" fill="url(#bb)"/>
<circle cx="573.80" cy="426.00" r="2.80" fill="url(#bb)"/>
<circle cx="527.70" cy="435.10" r="2.80" fill="url(#bb)"/>
<circle cx="538.00" cy="436.70" r="2.80" fill="url(#bb)"/>
<circle cx="545.90" cy="434.40" r="2.80" fill="url(#bb)"/>
<circle cx="554.00" cy="434.40" r="2.80" fill="url(#bb)"/>
<circle cx="563.00" cy="433.20" r="2.80" fill="url(#bb)"/>
<circle cx="570.20" cy="432.70" r="2.80" fill="url(#bb)"/>
<circle cx="580.20" cy="436.00" r="2.80" fill="url(#bb)"/>
<circle cx="524.40" cy="441.50" r="2.80" fill="url(#bb)"/>
<circle cx="531.50" cy="443.90" r="2.80" fill="url(#bb)"/>
<circle cx="540.40" cy="443.90" r="2.80" fill="url(#bb)"/>
<circle cx="547.50" cy="442.20" r="2.80" fill="url(#bb)"/>
<circle cx="555.90" cy="441.50" r="2.80" fill="url(#bb)"/>
<circle cx="564.20" cy="440.30" r="2.80" fill="url(#bb)"/>
<circle cx="573.10" cy="439.80" r="2.80" fill="url(#bb)"/>
<circle cx="589.30" cy="441.50" r="2.80" fill="url(#bb)"/>
<circle cx="522.00" cy="449.90" r="2.80" fill="url(#bb)"/>
<circle cx="532.00" cy="452.30" r="2.80" fill="url(#bb)"/>
<circle cx="542.80" cy="449.90" r="2.80" fill="url(#bb)"/>
<circle cx="553.50" cy="449.40" r="2.80" fill="url(#bb)"/>
<circle cx="563.00" cy="448.00" r="2.80" fill="url(#bb)"/>
<circle cx="570.70" cy="449.40" r="2.80" fill="url(#bb)"/>
<circle cx="579.30" cy="447.00" r="2.80" fill="url(#bb)"/>
<circle cx="586.90" cy="449.90" r="2.80" fill="url(#bb)"/>
<circle cx="595.20" cy="452.30" r="2.80" fill="url(#bb)"/>
<circle cx="513.70" cy="455.10" r="2.80" fill="url(#bb)"/>
<circle cx="524.40" cy="458.20" r="2.80" fill="url(#bb)"/>
<circle cx="537.50" cy="458.20" r="2.80" fill="url(#bb)"/>
<circle cx="548.70" cy="457.50" r="2.80" fill="url(#bb)"/>
<circle cx="560.20" cy="457.00" r="2.80" fill="url(#bb)"/>
<circle cx="570.70" cy="456.50" r="2.80" fill="url(#bb)"/>
<circle cx="579.30" cy="454.60" r="2.80" fill="url(#bb)"/>
<circle cx="588.60" cy="458.20" r="2.80" fill="url(#bb)"/>
<path d="M62,146.5 Q30,145.5 3,150.5 Q35,151.5 65,157 Q66,150 62,146.5 Z" fill="url(#gsh2)"/>
<ellipse cx="55.3" cy="139.4" rx="35.6" ry="9.9" fill="#2a3208"/>
<ellipse cx="55.0" cy="138.6" rx="35.7" ry="10.0" fill="url(#gsheet)"/>
<ellipse cx="338.1" cy="198.6" rx="50.6" ry="73.2" fill="none" stroke="#000" stroke-width="1.2"/>
<path d="M338,167.5 Q312,166.5 291,168.5 Q318,170 341,175 Q342,170 338,167.5 Z" fill="url(#gsh2)"/>
<ellipse cx="337.6" cy="160.6" rx="32.4" ry="9.2" fill="#2a3208"/>
<ellipse cx="337.4" cy="160.1" rx="32.4" ry="9.2" fill="url(#gsheet)"/>
<line x1="339.0" y1="169" x2="339.0" y2="184" stroke="#000" stroke-width="3.2"/>
<line x1="349.1" y1="233" x2="349.1" y2="248" stroke="#000" stroke-width="3.4"/>
<rect x="347.0" y="198.3" width="4.4" height="4.3" fill="#5A2A9C"/>
<rect x="347.0" y="207.1" width="4.4" height="4.3" fill="#5A2A9C"/>
<rect x="347.0" y="215.9" width="4.4" height="4.3" fill="#5A2A9C"/>
<circle cx="349.50" cy="252.30" r="5.50" fill="url(#rb)"/>
<defs><filter id="blur2" x="-30%" y="-30%" width="160%" height="160%"><feGaussianBlur stdDeviation="2.2"/></filter><filter id="blur1" x="-30%" y="-30%" width="160%" height="160%"><feGaussianBlur stdDeviation="1.2"/></filter></defs>
<polygon points="97,297 125,297 141,373 81,373" fill="#ffffcc" filter="url(#blur1)"/>
<g filter="url(#blur1)" stroke="#ffff30" stroke-width="5" fill="none" stroke-linejoin="round" stroke-linecap="round" opacity="0.95">
<line x1="97.5" y1="298" x2="83.3" y2="368"/>
<polyline points="81.25,362.99 83.3,368 87.13,364.19"/>
<line x1="104.2" y1="299.2" x2="96.3" y2="373"/>
<polyline points="93.80,368.21 96.3,373 99.76,368.84"/>
<line x1="110.8" y1="299.2" x2="110" y2="375"/>
<polyline points="107.05,370.47 110,375 113.05,370.53"/>
<line x1="117.4" y1="299.2" x2="124" y2="375"/>
<polyline points="120.62,370.78 124,375 126.60,370.26"/>
<line x1="123.7" y1="298" x2="136.4" y2="374"/>
<polyline points="132.70,370.06 136.4,374 138.62,369.07"/>
</g>
<polygon points="102.2,264.6 117.8,264.6 123.7,295.1 97.5,295.1" fill="#5f5f5f"/>
<linearGradient id="olive" x1="0" y1="0" x2="0" y2="1"><stop offset="0" stop-color="#7a7a48"/><stop offset="1" stop-color="#a8a840"/></linearGradient>
<polygon points="97.5,295.1 123.7,295.1 125.6,304 96.5,304" fill="url(#olive)"/>
<line x1="97.5" y1="298" x2="83.3" y2="368" stroke="#E6A62A" stroke-width="1.3"/>
<polyline points="81.25,362.99 83.3,368 87.13,364.19" fill="none" stroke="#E6A62A" stroke-width="1.3"/>
<line x1="104.2" y1="299.2" x2="96.3" y2="373" stroke="#E6A62A" stroke-width="1.3"/>
<polyline points="93.80,368.21 96.3,373 99.76,368.84" fill="none" stroke="#E6A62A" stroke-width="1.3"/>
<line x1="110.8" y1="299.2" x2="110" y2="375" stroke="#E6A62A" stroke-width="1.3"/>
<polyline points="107.05,370.47 110,375 113.05,370.53" fill="none" stroke="#E6A62A" stroke-width="1.3"/>
<line x1="117.4" y1="299.2" x2="124" y2="375" stroke="#E6A62A" stroke-width="1.3"/>
<polyline points="120.62,370.78 124,375 126.60,370.26" fill="none" stroke="#E6A62A" stroke-width="1.3"/>
<line x1="123.7" y1="298" x2="136.4" y2="374" stroke="#E6A62A" stroke-width="1.3"/>
<polyline points="132.70,370.06 136.4,374 138.62,369.07" fill="none" stroke="#E6A62A" stroke-width="1.3"/>
<linearGradient id="fsh2" gradientUnits="userSpaceOnUse" x1="85.4" y1="410.0" x2="84.0" y2="419.5"><stop offset="0" stop-color="#a06030" stop-opacity="0.85"/><stop offset="0.45" stop-color="#c89870" stop-opacity="0.5"/><stop offset="1" stop-color="#ffffff" stop-opacity="0"/></linearGradient>
<polygon points="8.50,398.60 160.30,420.30 158.30,430.30 -0.50,407.60" fill="url(#fsh2)" filter="url(#blur1)"/>
<polygon points="11.50,396.10 159.30,417.80 159.30,421.90 11.50,400.20" fill="#A85C22"/>
<polygon points="188.90,399.30 159.30,419.30 160.10,421.90 190.10,401.70" fill="#000"/>
<polygon points="41.10,377.90 188.90,399.30 159.30,419.30 11.50,397.60" fill="#C66D2E"/>
<polyline points="11.50,400.20 159.30,421.90 190.10,401.70" fill="none" stroke="#F0D040" stroke-width="0.8"/>
<circle cx="42.9" cy="384.5" r="3.1" fill="#000" stroke="#F2C828" stroke-width="0.9"/>
<circle cx="59.8" cy="387.9" r="3.1" fill="#000" stroke="#F2C828" stroke-width="0.9"/>
<circle cx="25.4" cy="394.8" r="3.1" fill="#000" stroke="#F2C828" stroke-width="0.9"/>
<circle cx="45.3" cy="394.2" r="3.1" fill="#000" stroke="#F2C828" stroke-width="0.9"/>
<circle cx="66.2" cy="397.6" r="3.1" fill="#000" stroke="#F2C828" stroke-width="0.9"/>
<circle cx="84.6" cy="392.6" r="3.1" fill="#000" stroke="#F2C828" stroke-width="0.9"/>
<circle cx="79.2" cy="401.4" r="3.1" fill="#000" stroke="#F2C828" stroke-width="0.9"/>
<circle cx="101.8" cy="399.3" r="3.1" fill="#000" stroke="#F2C828" stroke-width="0.9"/>
<circle cx="113.3" cy="393.2" r="3.1" fill="#000" stroke="#F2C828" stroke-width="0.9"/>
<circle cx="114.8" cy="405.9" r="3.1" fill="#000" stroke="#F2C828" stroke-width="0.9"/>
<circle cx="132.1" cy="404.2" r="3.1" fill="#000" stroke="#F2C828" stroke-width="0.9"/>
<circle cx="143.6" cy="399.7" r="3.1" fill="#000" stroke="#F2C828" stroke-width="0.9"/>
<circle cx="145.4" cy="411.2" r="3.1" fill="#000" stroke="#F2C828" stroke-width="0.9"/>
<circle cx="157.5" cy="405.4" r="3.1" fill="#000" stroke="#F2C828" stroke-width="0.9"/>
<circle cx="173.8" cy="403.0" r="3.1" fill="#000" stroke="#F2C828" stroke-width="0.9"/>
<ellipse cx="53.9" cy="456.4" rx="47.3" ry="23.7" fill="#fff" stroke="#000" stroke-width="1.2"/>
<ellipse cx="154.6" cy="462.3" rx="46.4" ry="22.9" fill="#fff" stroke="#000" stroke-width="1.2"/>
<path d="M19.10,460.70 C19.65,459.60 21.15,456.32 22.40,454.10 C23.65,451.88 25.22,448.87 26.60,447.40 C27.98,445.93 29.32,445.48 30.70,445.30 C32.08,445.12 33.92,445.67 34.90,446.30 C35.88,446.93 36.73,448.08 36.60,449.10 C36.47,450.12 34.67,451.30 34.10,452.40 C33.53,453.50 32.93,454.87 33.20,455.70 C33.47,456.53 34.72,457.40 35.70,457.40 C36.68,457.40 37.98,456.80 39.10,455.70 C40.22,454.60 41.30,452.32 42.40,450.80 C43.50,449.28 44.45,447.52 45.70,446.60 C46.95,445.68 48.52,445.30 49.90,445.30 C51.28,445.30 52.90,445.83 54.00,446.60 C55.10,447.37 55.53,448.93 56.50,449.90 C57.47,450.87 58.42,451.90 59.80,452.40 C61.18,452.90 63.35,453.17 64.80,452.90 C66.25,452.63 67.67,451.85 68.50,450.80 C69.33,449.75 69.53,448.13 69.80,446.60 C70.07,445.07 70.05,442.43 70.10,441.60" fill="none" stroke="#C8702C" stroke-width="1.7" stroke-linecap="round"/>
<path d="M39.90,473.20 C40.17,472.23 40.82,469.33 41.50,467.40 C42.18,465.47 42.88,463.27 44.00,461.60 C45.12,459.93 46.67,458.38 48.20,457.40 C49.73,456.42 51.68,455.70 53.20,455.70 C54.72,455.70 56.62,456.57 57.30,457.40 C57.98,458.23 57.85,459.73 57.30,460.70 C56.75,461.67 54.68,462.08 54.00,463.20 C53.32,464.32 52.78,466.23 53.20,467.40 C53.62,468.57 55.12,469.65 56.50,470.20 C57.88,470.75 60.12,471.03 61.50,470.70 C62.88,470.37 63.97,469.45 64.80,468.20 C65.63,466.95 65.80,464.87 66.50,463.20 C67.20,461.53 67.90,459.45 69.00,458.20 C70.10,456.95 71.72,456.12 73.10,455.70 C74.48,455.28 76.05,455.28 77.30,455.70 C78.55,456.12 79.63,457.22 80.60,458.20 C81.57,459.18 82.13,460.90 83.10,461.60 C84.07,462.30 85.30,462.55 86.40,462.40 C87.50,462.25 89.00,461.82 89.70,460.70 C90.40,459.58 90.60,457.35 90.60,455.70 C90.60,454.05 89.85,451.62 89.70,450.80" fill="none" stroke="#C8702C" stroke-width="1.7" stroke-linecap="round"/>
<path d="M142,464 Q128,466 117,470.5 Q135,468.5 150,467.5 Z" fill="url(#gsh2)"/>
<g transform="translate(153.80,460.40) rotate(0.00)"><ellipse cx="0.95" cy="1.53" rx="23.56" ry="5.10" fill="url(#rim)"/><ellipse cx="0" cy="0" rx="23.80" ry="5.10" fill="url(#gsheet)"/></g>
<circle cx="142.80" cy="457.00" r="4.20" fill="url(#rb)"/>
<circle cx="164.40" cy="457.00" r="4.20" fill="url(#rb)"/>
<circle cx="154.50" cy="470.80" r="4.20" fill="url(#rb)"/>
<polygon points="97.70,60.95 142.80,60.95 142.80,64.40 150.90,57.30 142.80,50.20 142.80,53.65 97.70,53.65" fill="#000"/>
<polygon points="107.90,163.20 144.40,163.20 144.40,166.20 152.00,159.60 144.40,153.00 144.40,156.00 107.90,156.00" fill="#000"/>
<polygon points="215.65,61.85 248.25,79.61 246.50,82.82 256.30,80.30 253.10,70.70 251.36,73.91 218.75,56.15" fill="#000"/>
<polygon points="254.80,92.45 294.10,92.45 294.10,95.70 301.80,88.90 294.10,82.10 294.10,85.35 254.80,85.35" fill="#000"/>
<polygon points="222.62,153.94 254.83,106.67 257.51,108.50 256.00,99.00 246.60,101.07 249.29,102.90 217.08,150.16" fill="#000"/>
<polygon points="376.50,91.00 442.00,91.00 442.00,94.35 450.50,87.40 442.00,80.45 442.00,83.80 376.50,83.80" fill="#000"/>
<polygon points="322.36,91.28 325.51,122.11 322.92,122.37 328.80,127.30 333.56,121.29 330.98,121.55 327.84,90.72" fill="#000"/>
<polygon points="354.37,211.18 374.22,213.55 373.90,216.23 381.50,211.60 375.20,205.31 374.88,207.99 355.03,205.62" fill="#000"/>
<polygon points="511.50,175.10 511.50,295.40 508.15,295.40 515.30,303.90 522.45,295.40 519.10,295.40 519.10,175.10" fill="#000"/>
<polygon points="407.54,350.27 372.94,381.09 370.71,378.58 369.50,388.50 379.49,388.44 377.26,385.94 411.86,355.13" fill="#000"/>
<polygon points="414.58,436.68 376.52,411.86 378.65,408.59 368.80,410.70 370.84,420.57 372.97,417.30 411.02,442.12" fill="#000"/>
<polygon points="518.80,431.35 487.80,431.35 487.80,428.15 481.00,434.60 487.80,441.05 487.80,437.85 518.80,437.85" fill="#000"/>
<polygon points="290.50,407.00 206.40,407.09 206.39,403.59 199.50,410.50 206.41,417.39 206.40,413.89 290.50,413.80" fill="#000"/>
<polygon points="89.87,408.65 80.62,429.99 78.14,428.92 80.90,436.00 87.96,433.17 85.48,432.10 94.73,410.75" fill="#000"/>
<polygon points="129.88,409.08 133.53,435.23 130.56,435.65 137.00,440.20 141.95,434.06 138.98,434.47 135.32,408.32" fill="#000"/>
<rect x="603.0" y="37.9" width="45.9" height="457.4" rx="8.5" ry="8.5" fill="none" stroke="#000" stroke-width="1.5"/>
<text transform="translate(620.90,267.20) rotate(-90)" x="0" y="0" font-size="16.65" fill="#000" stroke="#000" stroke-width="0.3" text-anchor="middle">Blue column: DMF; Red sphere: QD; Green sheet: GO;</text>
<text transform="translate(640.70,309.00) rotate(-90)" x="0" y="0" font-size="16.5" fill="#000" stroke="#000" stroke-width="0.3" text-anchor="middle">Yellow curve: PVDF; Black sphere: GO@QD</text>
<text x="56.30" y="98.20" font-size="16.6" fill="#000" stroke="#000" stroke-width="0.3" text-anchor="middle" >Pristine QD</text>
<text x="56.70" y="117.60" font-size="16.6" fill="#000" stroke="#000" stroke-width="0.3" text-anchor="middle" >suspension</text>
<text x="182.40" y="98.40" font-size="16.6" fill="#000" stroke="#000" stroke-width="0.3" text-anchor="middle" >QD</text>
<text x="182.60" y="118.20" font-size="16.6" fill="#000" stroke="#000" stroke-width="0.3" text-anchor="middle" >suspension</text>
<text x="57.00" y="167.80" font-size="16.6" fill="#000" stroke="#000" stroke-width="0.3" text-anchor="middle" >Pristine GO</text>
<text x="186.00" y="234.30" font-size="16.6" fill="#000" stroke="#000" stroke-width="0.3" text-anchor="middle" >GO</text>
<text x="186.40" y="254.20" font-size="16.6" fill="#000" stroke="#000" stroke-width="0.3" text-anchor="middle" >suspension</text>
<text x="522.00" y="146.10" font-size="18.7" fill="#000" stroke="#000" stroke-width="0.3" text-anchor="middle" >GO@QD</text>
<text x="522.10" y="167.90" font-size="18.7" fill="#000" stroke="#000" stroke-width="0.3" text-anchor="middle" >nanoparticles</text>
<text x="537.10" y="323.10" font-size="18.7" fill="#000" stroke="#000" stroke-width="0.3" text-anchor="middle" >GO@QD</text>
<text x="537.30" y="345.10" font-size="18.7" fill="#000" stroke="#000" stroke-width="0.3" text-anchor="middle" >suspension</text>
<text x="334.00" y="457.30" font-size="18.7" fill="#000" stroke="#000" stroke-width="0.3" text-anchor="middle" >Mixture</text>
<text x="446.50" y="507.00" font-size="18.7" fill="#000" stroke="#000" stroke-width="0.3" text-anchor="middle" >PVDF</text>
<text x="447.10" y="529.30" font-size="18.7" fill="#000" stroke="#000" stroke-width="0.3" text-anchor="middle" >solution</text>
<text x="554.70" y="477.40" font-size="18.7" fill="#000" stroke="#000" stroke-width="0.3" text-anchor="middle" >PVDF</text>
<text x="555.10" y="499.00" font-size="18.7" fill="#000" stroke="#000" stroke-width="0.3" text-anchor="middle" >powder</text>
<text x="109.60" y="331.10" font-size="18.7" fill="#000" stroke="#000" stroke-width="0.3" text-anchor="middle" >Gold</text>
<text x="109.60" y="354.00" font-size="18.7" fill="#000" stroke="#000" stroke-width="0.3" text-anchor="middle" >sputtering</text>
<text x="94.40" y="503.80" font-size="18.7" fill="#000" stroke="#000" stroke-width="0.3" text-anchor="middle" >Nanocomposite</text>
<text x="94.80" y="526.00" font-size="18.7" fill="#000" stroke="#000" stroke-width="0.3" text-anchor="middle" >film</text>
<text x="122.20" y="45.10" font-size="16.6" fill="#3558BA" stroke="#3558BA" stroke-width="0.3" text-anchor="middle" >Dilute</text>
<text x="129.00" y="150.30" font-size="16.6" fill="#3558BA" stroke="#3558BA" stroke-width="0.3" text-anchor="middle" >Disperse</text>
<text x="280.20" y="77.30" font-size="16.6" fill="#3558BA" stroke="#3558BA" stroke-width="0.3" text-anchor="middle" >Blend</text>
<text x="412.80" y="76.20" font-size="16.6" fill="#3558BA" stroke="#3558BA" stroke-width="0.3" text-anchor="middle" >Purify</text>
<text x="395.00" y="406.60" font-size="18.7" fill="#3558BA" stroke="#3558BA" stroke-width="0.3" text-anchor="middle" >Mix</text>
<text x="498.30" y="422.80" font-size="16.6" fill="#3558BA" stroke="#3558BA" stroke-width="0.3" text-anchor="middle" >Dissolve</text>
<text x="238.90" y="370.60" font-size="18.7" fill="#3558BA" stroke="#3558BA" stroke-width="0.3" text-anchor="middle" >Solution cast</text>
<text x="238.90" y="392.60" font-size="18.7" fill="#3558BA" stroke="#3558BA" stroke-width="0.3" text-anchor="middle" >Anneal</text>
<text x="238.80" y="437.80" font-size="18.7" fill="#3558BA" stroke="#3558BA" stroke-width="0.3" text-anchor="middle" >Demoulding</text>
<text transform="translate(537.60,242.40) rotate(-90)" x="0" y="0" font-size="16.2" fill="#3558BA" stroke="#3558BA" stroke-width="0.3" text-anchor="middle">Disperse</text>
<text transform="translate(283.50,203.60) rotate(-90)" x="0" y="0" font-size="16.3" fill="#000" stroke="#000" stroke-width="0.3" text-anchor="middle">Self-assembly</text>
<text x="442.10" y="217.90" font-size="16.7" fill="#CC1A22" stroke="#CC1A22" stroke-width="0.3" text-anchor="middle" >Hydrogen bond</text>
<text x="343.90" y="195.40" font-size="13.0" fill="#000" stroke="#000" stroke-width="0.3" text-anchor="middle" transform="translate(0,-11.8) scale(1,1.064)">OH</text>
<text x="344.6" y="231.7" font-size="13" fill="#000" stroke="#000" stroke-width="0.3">NH<tspan font-size="10.5">2</tspan></text>
</svg></body></html>
